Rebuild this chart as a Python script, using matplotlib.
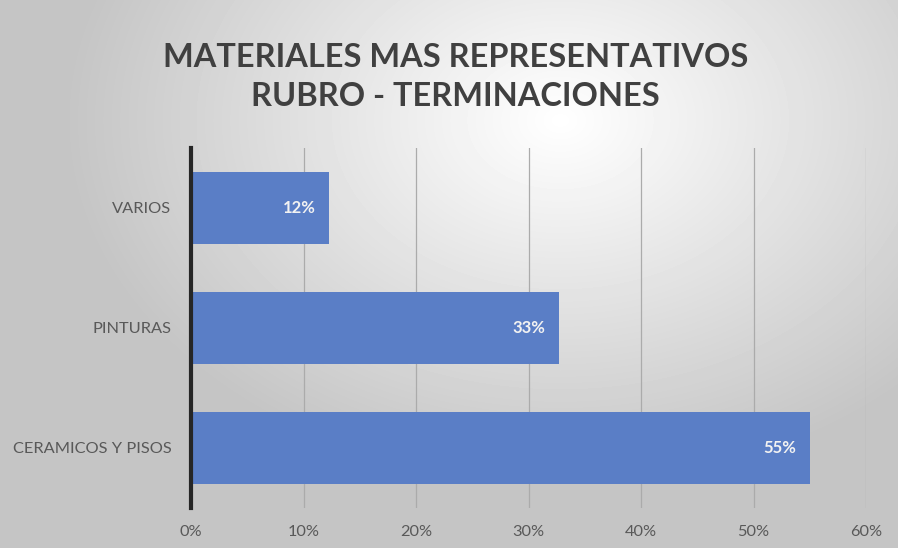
import numpy as np
import matplotlib.pyplot as plt
from matplotlib.ticker import FuncFormatter

categories = ["CERAMICOS Y PISOS", "PINTURAS", "VARIOS"]
values = [0.55, 0.327, 0.123]
labels = ["55%", "33%", "12%"]
xticks = [0, 0.1, 0.2, 0.3, 0.4, 0.5, 0.6]

fig = plt.figure(figsize=(8.98, 5.48), dpi=100)

# radial gray background, lighter near upper middle
bg = fig.add_axes([0, 0, 1, 1], zorder=0)
yy, xx = np.mgrid[0:548, 0:898]
r = np.sqrt(((xx - 560) / 650.0) ** 2 + ((yy - 120) / 480.0) ** 2)
shade = np.clip(1.0 - 0.3 * r, 0.77, 1.0)
bg.imshow(shade, cmap="gray", vmin=0, vmax=1, aspect="auto", interpolation="bilinear")
bg.axis("off")

ax = fig.add_axes([0.2127, 0.073, 0.7517, 0.657], zorder=1)
ax.patch.set_alpha(0)

ypos = np.arange(len(categories))
ax.barh(ypos, values, height=0.6, color="#5a7ec6", zorder=3)

for y, v, lab in zip(ypos, values, labels):
    ax.text(v - 0.012, y, lab, ha="right", va="center", color="#f2f2f2",
            fontsize=12, fontweight="bold", family="Lato", zorder=4)

ax.set_xlim(0, 0.6)
ax.set_ylim(-0.5, 2.5)
ax.set_xticks(xticks)
ax.xaxis.set_major_formatter(FuncFormatter(lambda v, p: f"{v*100:.0f}%"))
ax.set_yticks(ypos)
ax.set_yticklabels(categories)
ax.tick_params(axis="both", length=0, labelsize=11.8, labelcolor="#595959")
ax.tick_params(axis="x", pad=12)
ax.tick_params(axis="y", pad=14)
for lab in ax.get_xticklabels() + ax.get_yticklabels():
    lab.set_family("Lato")

ax.grid(axis="x", color="#ababab", linewidth=0.9, zorder=1)
for s in ["top", "right", "bottom"]:
    ax.spines[s].set_visible(False)
ax.spines["left"].set_color("#262626")
ax.spines["left"].set_linewidth(3)
ax.spines["left"].set_zorder(5)

fig.text(0.507, 0.859, "MATERIALES MAS REPRESENTATIVOS\nRUBRO - TERMINACIONES",
         ha="center", va="center", fontsize=23.4, fontweight="bold",
         color="#404040", family="Lato", linespacing=1.4)

fig.savefig("out.png", dpi=100)
